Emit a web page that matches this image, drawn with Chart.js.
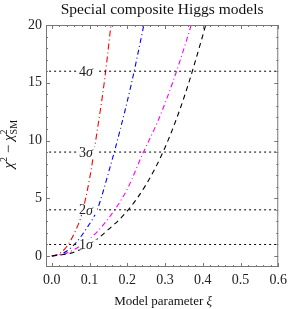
<!DOCTYPE html>
<html><head><meta charset="utf-8">
<script src="https://cdn.jsdelivr.net/npm/chart.js@4"></script>
<style>html,body{margin:0;padding:0;background:#fff}#c{display:block}</style>
</head><body>
<canvas id="c" width="292" height="309"></canvas>
<script>
const xTicks = [0.0, 0.1, 0.2, 0.3, 0.4, 0.5, 0.6];
const yTicks = [0, 5, 10, 15, 20];
const sigmaLevels = [1, 4, 9, 16];
const sigmaLabels = ["1", "2", "3", "4"];

const redXi = [0, 0.02, 0.04, 0.06, 0.08, 0.10, 0.12, 0.14, 0.16];
const redChi = [0, 0.2, 0.85, 2.0, 3.7, 6.7, 10.8, 15.3, 21];
const blueXi = [0, 0.03, 0.06, 0.09, 0.12, 0.15, 0.18, 0.21, 0.24, 0.25];
const blueChi = [0, 0.25, 1.0, 2.3, 4.0, 7.2, 10.8, 14.8, 19.4, 21];
const magentaXi = [0, 0.04, 0.08, 0.12, 0.16, 0.20, 0.24, 0.28, 0.32, 0.36, 0.38];
const magentaChi = [0, 0.25, 1.0, 2.1, 3.7, 5.8, 8.8, 11.6, 15.0, 19.0, 21.2];
const blackXi = [0, 0.05, 0.10, 0.15, 0.20, 0.25, 0.30, 0.35, 0.40, 0.42];
const blackChi = [0, 0.25, 1.0, 2.3, 3.9, 6.2, 9.4, 13.7, 19.1, 21.5];

const pts = (xs, ys) => xs.map((x, i) => ({x: x, y: ys[i]}));
const serif = '"Liberation Serif", "DejaVu Serif", serif';

const curve = (data, color, dash) => ({
  data: data, borderColor: color, borderWidth: 1.1, borderDash: dash,
  pointRadius: 0, fill: false, cubicInterpolationMode: 'monotone', showLine: true
});

const datasets = [];
sigmaLevels.forEach(v => datasets.push({
  data: [{x: -0.1, y: v}, {x: 0.7, y: v}], borderColor: '#000', borderWidth: 1,
  borderDash: [2, 3], pointRadius: 0, showLine: true, fill: false
}));
datasets.push(curve(pts(blackXi, blackChi), '#000', [5, 4]));
datasets.push(curve(pts(magentaXi, magentaChi), '#ff00ff', [5, 3, 1, 3]));
datasets.push(curve(pts(blueXi, blueChi), '#0000ff', [5, 3, 1, 3]));
datasets.push(curve(pts(redXi, redChi), '#ff0000', [6, 3, 1, 3]));

const deco = {
  id: 'deco',
  afterDatasetsDraw(chart) {
    const ctx = chart.ctx, a = chart.chartArea;
    const xs = chart.scales.x, ys = chart.scales.y;
    ctx.save();
    // sigma labels
    sigmaLevels.forEach((v, i) => {
      const px = xs.getPixelForValue(0.096), py = ys.getPixelForValue(v);
      ctx.fillStyle = '#fff';
      ctx.fillRect(px - 9, py - 5, 18, 10);
      ctx.fillStyle = '#222';
      ctx.textBaseline = 'middle';
      ctx.textAlign = 'left';
      ctx.font = '14px ' + serif;
      const w1 = ctx.measureText(sigmaLabels[i]).width;
      ctx.fillText(sigmaLabels[i], px - 9, py + 1);
      ctx.font = 'italic 14px ' + serif;
      ctx.fillText('σ', px - 9 + w1, py + 1);
    });
    // frame
    ctx.strokeStyle = '#777';
    ctx.lineWidth = 1;
    ctx.strokeRect(a.left + 0.5, a.top + 0.5, a.right - a.left - 1, a.bottom - a.top - 1);
    // ticks
    ctx.beginPath();
    for (let k = -1; k <= 30; k++) {
      const v = k * 0.02;
      if (v < xs.min - 1e-9 || v > xs.max + 1e-9) continue;
      const major = k % 5 === 0;
      const L = major ? 4 : 2;
      const px = Math.round(xs.getPixelForValue(v)) + 0.5;
      ctx.moveTo(px, a.bottom); ctx.lineTo(px, a.bottom - L);
      ctx.moveTo(px, a.top); ctx.lineTo(px, a.top + L);
    }
    for (let v = 0; v <= 20; v++) {
      const major = v % 5 === 0;
      const L = major ? 4 : 2;
      const py = Math.round(ys.getPixelForValue(v)) + 0.5;
      ctx.moveTo(a.left, py); ctx.lineTo(a.left + L, py);
      ctx.moveTo(a.right, py); ctx.lineTo(a.right - L, py);
    }
    ctx.stroke();
    // title
    ctx.fillStyle = '#111';
    ctx.textAlign = 'center';
    ctx.textBaseline = 'alphabetic';
    ctx.font = '15.5px ' + serif;
    ctx.fillText('Special composite Higgs models', (a.left + a.right) / 2, 14);
    // x title
    ctx.font = '13px ' + serif;
    const t1 = 'Model parameter ';
    const w1 = ctx.measureText(t1).width;
    ctx.font = 'italic 13px ' + serif;
    const w2 = ctx.measureText('ξ').width;
    const cx = (a.left + a.right) / 2 + 1;
    ctx.textAlign = 'left';
    ctx.font = '13px ' + serif;
    ctx.fillText(t1, cx - (w1 + w2) / 2, 305);
    ctx.font = 'italic 13px ' + serif;
    ctx.fillText('ξ', cx - (w1 + w2) / 2 + w1, 305);
    // y title (rotated)
    ctx.translate(13, 143);
    ctx.rotate(-Math.PI / 2);
    const parts = [
      ['χ', 'italic 15px ', 0], ['2', '10px ', -6], [' − ', '15px ', 0],
      ['χ', 'italic 15px ', 0], ['2', '10px ', -6]
    ];
    let total = 0;
    parts.forEach(p => { ctx.font = p[1] + serif; total += ctx.measureText(p[0]).width; });
    let x0 = -total / 2 - 6;
    let lastChiX = 0;
    parts.forEach((p, i) => {
      ctx.font = p[1] + serif;
      if (i === 4) lastChiX = x0;
      ctx.fillText(p[0], x0, p[2]);
      x0 += ctx.measureText(p[0]).width;
    });
    ctx.font = '10px ' + serif;
    ctx.fillText('SM', lastChiX, 4);
    ctx.restore();
  }
};

new Chart(document.getElementById('c'), {
  type: 'scatter',
  data: {datasets: datasets},
  options: {
    responsive: false, animation: false,
    layout: {padding: {top: 25, right: 7, left: 0, bottom: 0}},
    plugins: {legend: {display: false}, tooltip: {enabled: false}},
    scales: {
      x: {
        type: 'linear', min: -0.0155, max: 0.6,
        afterBuildTicks: s => { s.ticks = xTicks.map(v => ({value: v})); },
        afterFit: s => { s.height = 42; },
        grid: {display: false, drawTicks: false}, border: {display: false},
        ticks: {color: '#222', padding: 5, maxRotation: 0, autoSkip: false,
          font: {family: serif, size: 14},
          callback: v => v.toFixed(1)}
      },
      y: {
        type: 'linear', min: -0.95, max: 20,
        afterBuildTicks: s => { s.ticks = yTicks.map(v => ({value: v})); },
        afterFit: s => { s.width = 46; },
        grid: {display: false, drawTicks: false}, border: {display: false},
        ticks: {color: '#222', padding: 4, font: {family: serif, size: 14},
          callback: v => String(v)}
      }
    }
  },
  plugins: [deco]
});
</script>
</body></html>
